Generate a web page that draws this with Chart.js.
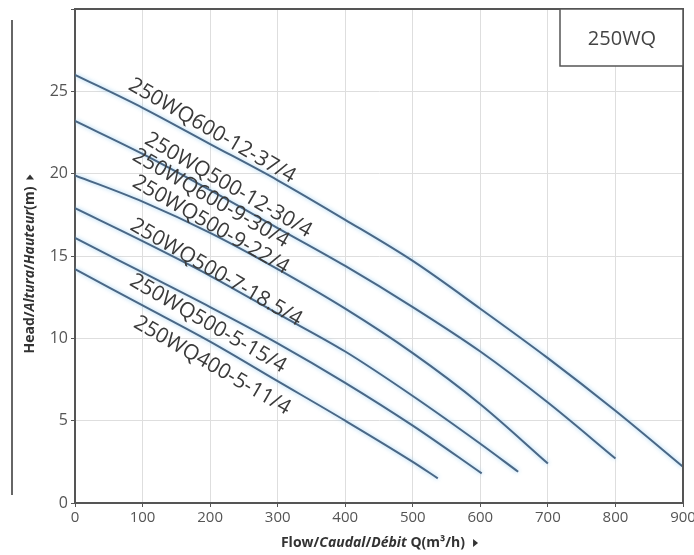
<!DOCTYPE html>
<html>
<head>
<meta charset="utf-8">
<script src="https://cdn.jsdelivr.net/npm/chart.js@4"></script>
<style>
  html, body { margin: 0; padding: 0; background: #fff; }
  #wrap { width: 694px; height: 555px; }
</style>
</head>
<body>
<div id="wrap"><canvas id="chart" width="694" height="555"></canvas></div>
<script>
// curves: head (m) at given flow (m3/h)
const flow600_12 = [0, 100, 200, 300, 400, 500, 600, 700, 800, 900];
const head600_12 = [26.0, 24.0, 21.8, 19.6, 17.2, 14.7, 11.8, 8.8, 5.6, 2.2];
const flow500_12 = [0, 100, 200, 300, 400, 500, 600, 700, 800];
const head500_12 = [23.2, 21.2, 19.0, 16.7, 14.4, 11.9, 9.2, 6.1, 2.7];
const flow600_9 = [0, 100, 200, 300, 400, 500, 600, 700];
const head600_9 = [19.9, 18.3, 16.4, 14.2, 11.8, 9.1, 6.0, 2.4];
const flow500_9 = [0, 100, 200, 300, 400, 500, 600, 656];
const head500_9 = [17.9, 15.9, 13.8, 11.5, 9.2, 6.5, 3.6, 1.9];
const flow500_7 = [0, 100, 200, 300, 400, 500, 602];
const head500_7 = [16.1, 14.0, 11.9, 9.7, 7.3, 4.7, 1.8];
const flow400_5 = [0, 100, 200, 300, 400, 500, 537];
const head400_5 = [14.2, 12.0, 9.8, 7.4, 5.0, 2.5, 1.5];

const curveLabels = ["250WQ600-12-37/4", "250WQ500-12-30/4", "250WQ600-9-30/4",
  "250WQ500-9-22/4", "250WQ500-7-18.5/4", "250WQ500-5-15/4", "250WQ400-5-11/4"];
const labelFlow = [203, 227, 201, 201, 209, 197, 203];
const labelHead = [22.6, 19.3, 18.5, 16.9, 14.0, 10.9, 8.35];

const xTicks = [0, 100, 200, 300, 400, 500, 600, 700, 800, 900];
const yTickLabels = ["0", "5", "10", "15", "20", "25"];
const seriesTitle = "250WQ";

const lineColor = "#4a6785";
const axisColor = "#555";

function pts(xs, ys) {
  return xs.map((x, i) => ({ x: x, y: ys[i] }));
}

function mkSet(xs, ys) {
  return {
    data: pts(xs, ys),
    borderColor: lineColor,
    borderWidth: 2,
    pointRadius: 0,
    cubicInterpolationMode: "monotone",
    fill: false,
  };
}

// draws text made of bold / italic parts one after another
function drawParts(ctx, parts, size) {
  let total = 0;
  parts.forEach(p => {
    ctx.font = (p[1] ? "italic " : "") + "bold " + size + "px 'Open Sans'";
    total += ctx.measureText(p[0]).width;
  });
  let x = -total / 2;
  parts.forEach(p => {
    ctx.font = (p[1] ? "italic " : "") + "bold " + size + "px 'Open Sans'";
    ctx.fillText(p[0], x, 0);
    x += ctx.measureText(p[0]).width;
  });
  return total / 2;
}

function arrow(ctx, x) {
  ctx.beginPath();
  ctx.moveTo(x, -4);
  ctx.lineTo(x + 5, 0);
  ctx.lineTo(x, 4);
  ctx.closePath();
  ctx.fill();
}

const decor = {
  id: "decor",
  beforeDatasetsDraw(chart) {
    chart.ctx.save();
    chart.ctx.shadowColor = "rgba(140,200,240,0.9)";
    chart.ctx.shadowBlur = 4;
  },
  afterDatasetsDraw(chart) {
    chart.ctx.restore();
  },
  afterDraw(chart) {
    const ctx = chart.ctx;
    const a = chart.chartArea;
    const xs = chart.scales.x, ys = chart.scales.y;
    ctx.save();

    // frame top/right
    ctx.strokeStyle = axisColor;
    ctx.lineWidth = 2;
    ctx.beginPath();
    ctx.moveTo(a.left, a.top);
    ctx.lineTo(a.right, a.top);
    ctx.lineTo(a.right, a.bottom);
    ctx.stroke();

    // model box
    ctx.lineWidth = 1.5;
    ctx.fillStyle = "#fff";
    ctx.fillRect(a.right - 123, a.top, 123, 57);
    ctx.strokeRect(a.right - 123, a.top, 123, 57);
    ctx.fillStyle = "#444";
    ctx.font = "20px 'Open Sans'";
    ctx.textAlign = "center";
    ctx.textBaseline = "middle";
    ctx.fillText(seriesTitle, a.right - 61, a.top + 30);

    // curve names
    ctx.fillStyle = "#3a3a3a";
    ctx.font = "21px 'Open Sans'";
    curveLabels.forEach((t, i) => {
      ctx.save();
      ctx.translate(xs.getPixelForValue(labelFlow[i]), ys.getPixelForValue(labelHead[i]));
      ctx.rotate(30 * Math.PI / 180);
      ctx.fillText(t, 0, 0);
      ctx.restore();
    });

    // left decorative line
    ctx.strokeStyle = "#666";
    ctx.lineWidth = 2;
    ctx.beginPath();
    ctx.moveTo(12, 20);
    ctx.lineTo(12, 495);
    ctx.stroke();

    // axis titles
    ctx.fillStyle = "#333";
    ctx.textAlign = "left";
    ctx.save();
    ctx.translate(30, (a.top + a.bottom) / 2 + 14);
    ctx.rotate(-Math.PI / 2);
    let half = drawParts(ctx, [["Head/", false], ["Altura", true], ["/", false], ["Hauteur", true], ["(m)", false]], 14);
    arrow(ctx, half + 7);
    ctx.restore();

    ctx.save();
    ctx.translate((a.left + a.right) / 2 - 6, 543);
    half = drawParts(ctx, [["Flow/", false], ["Caudal", true], ["/", false], ["Débit", true], [" Q(m³/h)", false]], 14);
    arrow(ctx, half + 8);
    ctx.restore();

    ctx.restore();
  }
};

new Chart(document.getElementById("chart"), {
  type: "line",
  data: {
    datasets: [
      mkSet(flow600_12, head600_12),
      mkSet(flow500_12, head500_12),
      mkSet(flow600_9, head600_9),
      mkSet(flow500_9, head500_9),
      mkSet(flow500_7, head500_7),
      mkSet(flow400_5, head400_5),
    ],
  },
  options: {
    responsive: false,
    animation: false,
    layout: { padding: { top: 9, right: 11, left: 0, bottom: 0 } },
    plugins: { legend: { display: false }, tooltip: { enabled: false } },
    scales: {
      x: {
        type: "linear",
        min: 0,
        max: 900,
        afterFit: s => { s.height = 52; s.paddingLeft = 0; s.paddingRight = 0; },
        afterBuildTicks: s => { s.ticks = xTicks.map(v => ({ value: v })); },
        grid: { color: "#dedede", lineWidth: 1, tickLength: 4, tickColor: axisColor },
        border: { color: axisColor, width: 2 },
        ticks: { color: "#555", font: { family: "'Open Sans'", size: 15 }, padding: 2, maxRotation: 0 },
      },
      y: {
        type: "linear",
        min: 0,
        max: 30,
        afterFit: s => { s.width = 75; s.paddingTop = 0; s.paddingBottom = 0; },
        grid: { color: "#dedede", lineWidth: 1, tickLength: 4, tickColor: axisColor },
        border: { color: axisColor, width: 2 },
        ticks: {
          stepSize: 5,
          color: "#555",
          font: { family: "'Open Sans'", size: 16 },
          padding: 3,
          callback: (v, i) => (i < yTickLabels.length ? yTickLabels[i] : ""),
        },
      },
    },
  },
  plugins: [decor],
});
</script>
</body>
</html>
